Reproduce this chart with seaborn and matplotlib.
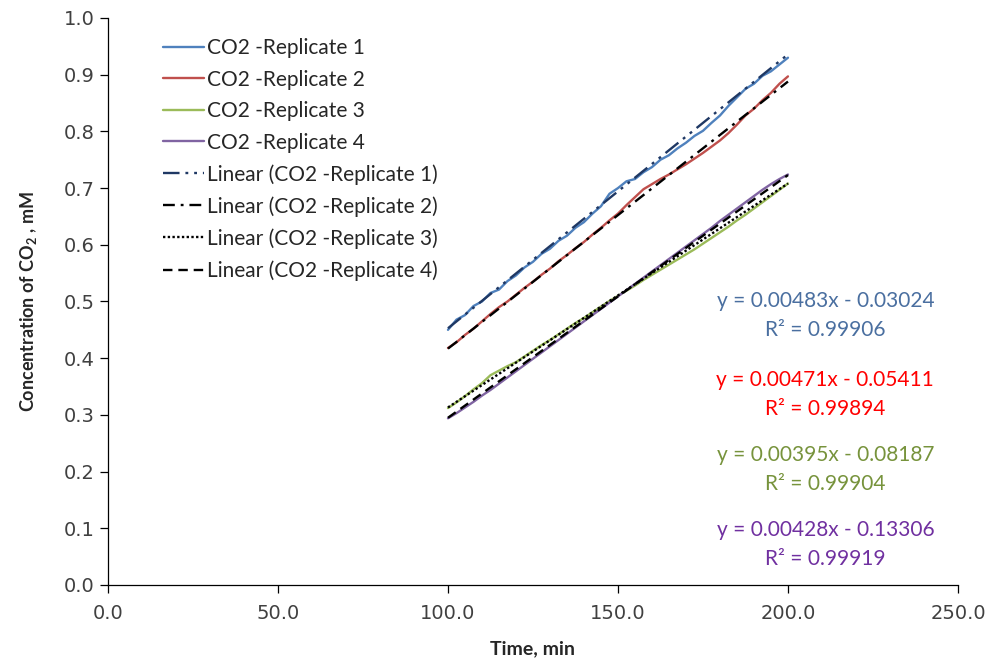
import matplotlib
matplotlib.use("Agg")
import matplotlib.pyplot as plt
import numpy as np
import pandas as pd
import seaborn as sns

# time axis, minutes
time_min = np.arange(100, 200.1, 2.5)

rep1 = [0.450, 0.468, 0.476, 0.492, 0.500, 0.515, 0.521, 0.536, 0.546, 0.560,
        0.570, 0.584, 0.593, 0.607, 0.616, 0.630, 0.640, 0.655, 0.668, 0.690,
        0.700, 0.712, 0.716, 0.728, 0.737, 0.750, 0.758, 0.770, 0.780, 0.792,
        0.801, 0.815, 0.828, 0.845, 0.860, 0.875, 0.884, 0.898, 0.906, 0.918, 0.930]
rep2 = [0.418, 0.428, 0.441, 0.452, 0.465, 0.478, 0.490, 0.500, 0.512, 0.524,
        0.535, 0.547, 0.558, 0.571, 0.582, 0.594, 0.605, 0.618, 0.630, 0.643,
        0.655, 0.670, 0.684, 0.698, 0.707, 0.716, 0.724, 0.733, 0.742, 0.752,
        0.762, 0.773, 0.784, 0.797, 0.812, 0.828, 0.840, 0.855, 0.868, 0.884, 0.897]
rep3 = [0.312, 0.322, 0.333, 0.345, 0.356, 0.370, 0.378, 0.386, 0.393, 0.403,
        0.413, 0.423, 0.432, 0.442, 0.452, 0.462, 0.471, 0.481, 0.491, 0.501,
        0.510, 0.519, 0.528, 0.538, 0.547, 0.556, 0.565, 0.574, 0.583, 0.592,
        0.602, 0.612, 0.622, 0.632, 0.643, 0.653, 0.664, 0.675, 0.686, 0.697, 0.708]
rep4 = [0.294, 0.303, 0.313, 0.323, 0.334, 0.344, 0.355, 0.366, 0.377, 0.388,
        0.399, 0.410, 0.421, 0.432, 0.443, 0.454, 0.465, 0.476, 0.487, 0.498,
        0.509, 0.520, 0.531, 0.542, 0.553, 0.564, 0.575, 0.586, 0.597, 0.608,
        0.619, 0.630, 0.642, 0.653, 0.664, 0.675, 0.686, 0.697, 0.707, 0.716, 0.724]

# trend line coefficients as printed on the chart
slopes = [0.00483, 0.00471, 0.00395, 0.00428]
intercepts = [-0.03024, -0.05411, -0.08187, -0.13306]
r2 = ["0.99906", "0.99894", "0.99904", "0.99919"]

names = ["CO2 -Replicate 1", "CO2 -Replicate 2", "CO2 -Replicate 3", "CO2 -Replicate 4"]
line_colors = ["#4F81BD", "#C0504D", "#9BBB59", "#8064A2"]
text_colors = ["#4A6FA0", "#FF0000", "#77933C", "#7030A0"]
trend_colors = ["#1F3864", "black", "black", "black"]
trend_dashes = [(7, 2.5, 1.2, 2.5, 1.2, 2.5), (5, 2.5, 1.2, 2.5), (1, 1), (4, 2.5)]
text_y = [0.475, 0.336, 0.204, 0.071]

sns.set_style("ticks")
plt.rcParams["font.family"] = ["Lato", "DejaVu Sans"]
plt.rcParams["mathtext.fontset"] = "custom"
plt.rcParams["mathtext.rm"] = "Lato"
plt.rcParams["mathtext.bf"] = "Lato:bold"

fig, ax = plt.subplots(figsize=(9.88, 6.59), dpi=100)
fig.subplots_adjust(left=0.1093, right=0.9696, top=0.9727, bottom=0.1123)

for name, ys, c in zip(names, [rep1, rep2, rep3, rep4], line_colors):
    df = pd.DataFrame({"t": time_min, "c": ys})
    sns.lineplot(data=df, x="t", y="c", color=c, lw=1.7, label=name, ax=ax)

tx = np.array([100.0, 200.0])
for name, a, b, c, d in zip(names, slopes, intercepts, trend_colors, trend_dashes):
    line, = ax.plot(tx, a * tx + b, color=c, lw=1.7, label=f"Linear ({name})")
    line.set_dashes(d)

for a, b, r, c, y in zip(slopes, intercepts, r2, text_colors, text_y):
    ax.text(211, y, f"y = {a:.5f}x - {abs(b):.5f}\nR² = {r}", color=c,
            ha="center", va="center", fontsize=15, linespacing=1.55)

ax.set_xlim(0, 250)
ax.set_ylim(0, 1.0)
ax.set_xticks(np.arange(0, 251, 50))
ax.set_yticks(np.arange(0, 1.01, 0.1))
ax.set_xticklabels([f"{v:.1f}" for v in np.arange(0, 251, 50)], family="DejaVu Sans")
ax.set_yticklabels([f"{v:.1f}" for v in np.arange(0, 1.01, 0.1)], family="DejaVu Sans")
ax.tick_params(labelsize=14, length=6, width=0.9, color="black", labelcolor="#404040")
ax.tick_params(axis="x", pad=8)
for s in ["left", "bottom"]:
    ax.spines[s].set_color("black")
    ax.spines[s].set_linewidth(0.9)
sns.despine(ax=ax)

ax.set_xlabel("Time, min", fontsize=14, fontweight="bold", labelpad=12)
ax.set_ylabel(r"Concentration of CO$_\mathbf{2}$ , mM", fontsize=13, fontweight="bold", labelpad=18)

ax.legend(loc="upper left", bbox_to_anchor=(0.047, 0.99), frameon=False, fontsize=15,
          handlelength=2.0, handletextpad=0.15, labelspacing=0.55, borderaxespad=0.3)

fig.savefig("out.png", dpi=100)
